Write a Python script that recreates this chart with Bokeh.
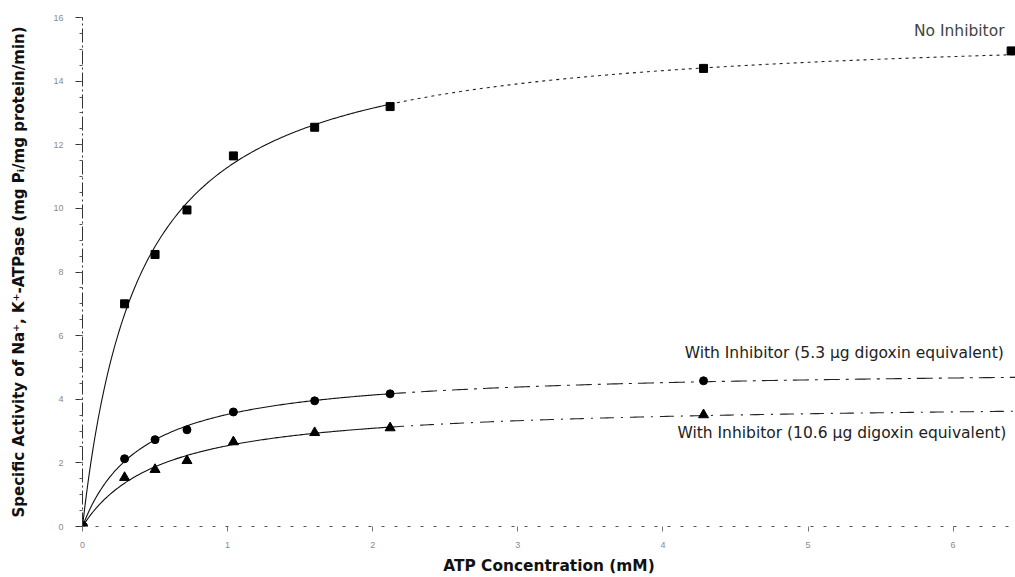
import numpy as np
from bokeh.plotting import figure
from bokeh.models import Range1d, FixedTicker, Label
from bokeh.embed import file_html
from bokeh.resources import INLINE

# ATP concentration (mM) for the assay points
atp_mm = [0, 0.29, 0.50, 0.72, 1.04, 1.60, 2.12, 4.28, 6.40]

# Specific activity (mg Pi / mg protein / min)
no_inhibitor = [0, 7.0, 8.55, 9.95, 11.65, 12.55, 13.2, 14.4, 14.95]
inhibitor_5_3 = [0, 2.13, 2.73, 3.04, 3.60, 3.95, 4.17, 4.58]
inhibitor_10_6 = [0, 1.54, 1.79, 2.07, 2.66, 2.95, 3.10, 3.51]

y_ticks = [0, 2, 4, 6, 8, 10, 12, 14, 16]
x_ticks = [0, 1, 2, 3, 4, 5, 6]

X_END = 6.43
SOLID_END = 2.12


def mm_fit(x, v):
    """Least-squares Michaelis-Menten fit: returns (Vmax, Km)."""
    x = np.asarray(x, float)
    v = np.asarray(v, float)
    best = None
    for km in np.linspace(0.02, 4.0, 2000):
        f = x / (km + x)
        vmax = (v * f).sum() / (f * f).sum()
        err = ((vmax * f - v) ** 2).sum()
        if best is None or err < best[0]:
            best = (err, vmax, km)
    return best[1], best[2]


p = figure(width=1015, height=577, output_backend="svg", toolbar_location=None,
           x_range=Range1d(0, X_END), y_range=Range1d(0, 16),
           min_border_left=82, min_border_right=0, min_border_top=17,
           min_border_bottom=50)
p.outline_line_color = None
p.xgrid.grid_line_color = None
p.ygrid.grid_line_color = None
p.background_fill_color = "white"
p.border_fill_color = "white"

# axes
p.yaxis.ticker = FixedTicker(ticks=y_ticks, minor_ticks=list(np.arange(0, 16.01, 0.5)))
p.xaxis.ticker = FixedTicker(ticks=x_ticks, minor_ticks=[])
for ax in (p.xaxis, p.yaxis):
    ax.major_label_text_font = "Liberation Sans"
    ax.major_label_text_font_size = "9px"
    ax.major_label_text_color = "#8a8a8a"
    ax.axis_label_text_color = "#111111"
    ax.axis_label_text_font = "DejaVu Sans"
    ax.axis_label_text_font_style = "bold"
    ax.major_tick_in = 0
    ax.minor_tick_in = 0
p.yaxis.axis_line_color = "#333333"
p.yaxis.axis_line_dash = "14 3 2 3"
p.yaxis.major_tick_out = 7
p.yaxis.minor_tick_out = 3
p.yaxis.major_tick_line_color = "#333333"
p.yaxis.minor_tick_line_color = "#555555"
p.yaxis.major_label_standoff = 12
p.yaxis.axis_label = "Specific Activity of Na\u207a, K\u207a-ATPase (mg P\u1d62/mg protein/min)"
p.yaxis.axis_label_text_font_size = "15px"
p.yaxis.axis_label_standoff = 22

p.xaxis.axis_line_color = "#555555"
p.xaxis.axis_line_dash = "3 10"
p.xaxis.major_tick_out = 5
p.xaxis.major_tick_line_color = "#777777"
p.xaxis.major_label_standoff = 10
p.xaxis.axis_label = "ATP Concentration (mM)"
p.xaxis.axis_label_text_font_size = "15.4px"
p.xaxis.axis_label_standoff = 6

# fitted saturation curves: solid over the measured low range, dashed beyond
series = [
    (no_inhibitor, "square", 8, "3 4"),
    (inhibitor_5_3, "circle", 8, "16 6 3 6"),
    (inhibitor_10_6, "triangle", 10, "14 7 2 7"),
]
for vals, marker, size, dash in series:
    xs = atp_mm[:len(vals)]
    vmax, km = mm_fit(xs, vals)
    xa = np.linspace(0, SOLID_END, 200)
    xb = np.linspace(SOLID_END, X_END, 200)
    p.line(xa, vmax * xa / (km + xa), line_color="#111111", line_width=1.1)
    p.line(xb, vmax * xb / (km + xb), line_color="#222222", line_width=1.1,
           line_dash=dash)
    p.scatter(xs[1:], vals[1:], marker=marker, size=size,
              fill_color="black", line_color="black")

# shared origin point
p.scatter([atp_mm[0]], [no_inhibitor[0]], marker="circle", size=10,
          fill_color="black", line_color="black")

labels = [
    ("No Inhibitor", 5.73, 15.28, "#444444"),
    ("With Inhibitor (5.3 \u00b5g digoxin equivalent)", 4.15, 5.17, "#222222"),
    ("With Inhibitor (10.6 \u00b5g digoxin equivalent)", 4.1, 2.66, "#222222"),
]
for txt, lx, ly, col in labels:
    p.add_layout(Label(x=lx, y=ly, text=txt, text_font="DejaVu Sans",
                       text_font_size="15.5px", text_color=col,
                       text_baseline="bottom"))

open("out.html", "w").write(file_html(p, INLINE))
